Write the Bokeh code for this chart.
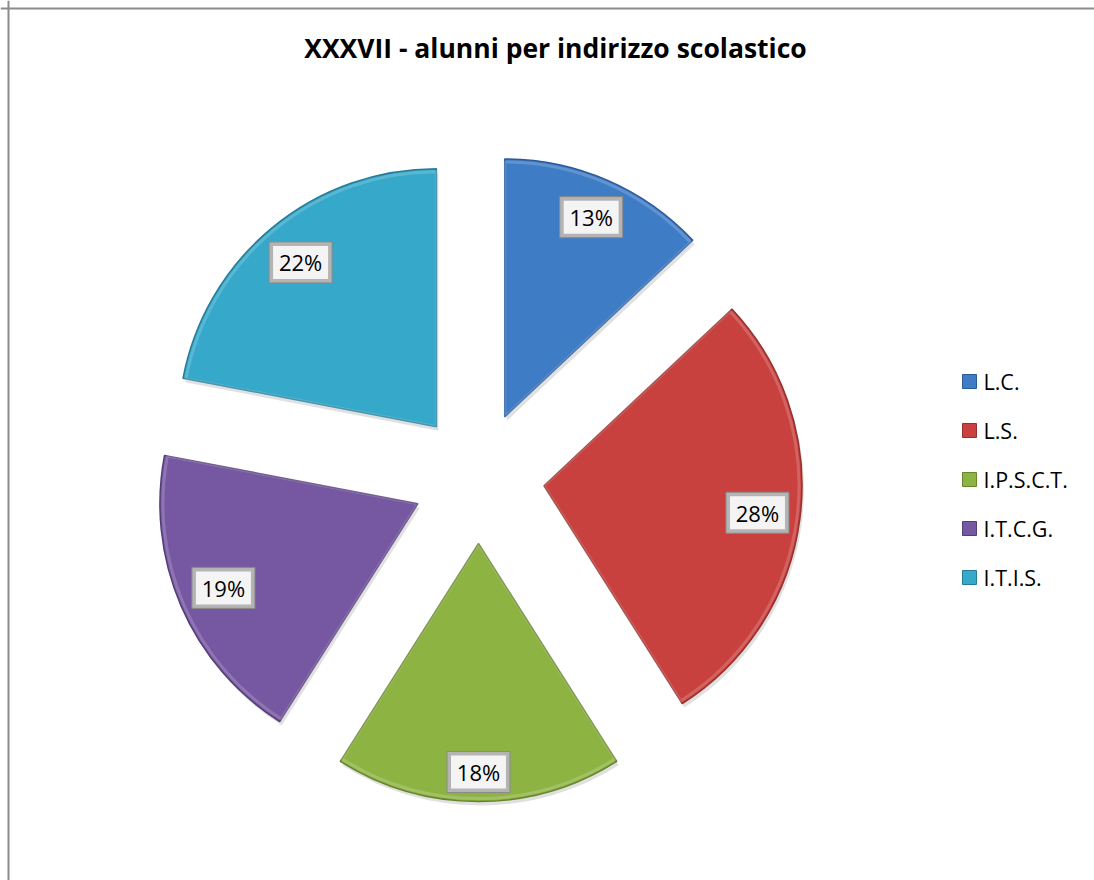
import numpy as np
from bokeh.plotting import figure
from bokeh.models import ColumnDataSource, Span, Range1d
from bokeh.core.properties import value
from bokeh.embed import file_html
from bokeh.resources import INLINE

# ---- data ----
title_text = "XXXVII - alunni per indirizzo scolastico"
categories = ["L.C.", "L.S.", "I.P.S.C.T.", "I.T.C.G.", "I.T.I.S."]
percent = [13, 28, 18, 19, 22]
pct_labels = ["13%", "28%", "18%", "19%", "22%"]

# ---- style ----
colors = ["#3f7cc6", "#c9413e", "#8db443", "#7657a1", "#36a8ca"]
edge_colors = ["#2a5a98", "#96302d", "#66842e", "#543d78", "#247c97"]
FONT = "Open Sans"

W, H = 1094, 880
CX, CY = 478, 403      # pie centre
R = 258                # radius
D = 66                 # explosion offset
BW, BH = 63, 41        # label box size

p = figure(width=W, height=H, x_range=Range1d(0, W), y_range=Range1d(0, H),
           output_backend="svg", toolbar_location=None, min_border=0,
           x_axis_location=None, y_axis_location=None)
p.grid.visible = False
p.outline_line_color = None
p.background_fill_color = "white"
p.border_fill_color = "white"

total = float(sum(percent))
cum = np.cumsum([0] + percent)
start = np.pi / 2 - 2 * np.pi * cum[:-1] / total
end = np.pi / 2 - 2 * np.pi * cum[1:] / total
mid = (start + end) / 2
cx = CX + D * np.cos(mid)
cy = CY + D * np.sin(mid)

ext = np.abs(np.cos(mid)) * BW / 2 + np.abs(np.sin(mid)) * BH / 2
dl = R - 9 - ext
lx = cx + dl * np.cos(mid)
ly = cy + dl * np.sin(mid)

src = ColumnDataSource(dict(cat=categories, pct=percent, lab=pct_labels,
                            start=start, end=end, cx=cx, cy=cy,
                            sx=cx + 2, sy=cy - 4,
                            lx=lx, ly=ly, color=colors, edge=edge_colors))

# shadow
p.wedge(x="sx", y="sy", radius=R, start_angle="start", end_angle="end",
        direction="clock", source=src, fill_color="black", fill_alpha=0.12,
        line_color=None)
# slices
p.wedge(x="cx", y="cy", radius=R, start_angle="start", end_angle="end",
        direction="clock", source=src, fill_color="color",
        line_color="edge", line_width=1.5)
# soft bevel highlight
p.wedge(x="cx", y="cy", radius=R - 3, start_angle="start", end_angle="end",
        direction="clock", source=src, fill_color=None,
        line_color="white", line_alpha=0.18, line_width=3)

# label boxes
p.rect(x="lx", y="ly", width=BW, height=BH, width_units="screen",
       height_units="screen", source=src, fill_color="#b4b4b4",
       line_color="#8a8a8a", line_width=1)
p.rect(x="lx", y="ly", width=BW - 8, height=BH - 8, width_units="screen",
       height_units="screen", source=src, fill_color="#f4f4f4",
       line_color=None)
p.text(x="lx", y="ly", text="lab", source=src, text_align="center",
       text_baseline="middle", text_font=value(FONT), text_font_size="22px",
       text_color="black")

# legend
leg = ColumnDataSource(dict(cat=categories, color=colors, edge=edge_colors,
                            x=[969] * len(categories),
                            tx=[983] * len(categories),
                            y=[499 - 49 * i for i in range(len(categories))]))
p.rect(x="x", y="y", width=14, height=14, width_units="screen",
       height_units="screen", source=leg, fill_color="color",
       line_color="edge", line_width=1)
p.text(x="tx", y="y", text="cat", source=leg, text_align="left",
       text_baseline="middle", text_font=value(FONT), text_font_size="21.5px",
       text_color="black")

# title
p.text(x=[555], y=[833], text=[title_text], text_align="center",
       text_baseline="middle", text_font=value(FONT), text_font_size="26.5px",
       text_font_style="bold", text_color="black")

# chart border (left and top edges)
p.add_layout(Span(location=8, dimension="height", line_color="#8c8c8c", line_width=2))
p.add_layout(Span(location=H - 8, dimension="width", line_color="#8c8c8c", line_width=2))

open("out.html", "w").write(file_html(p, INLINE))
